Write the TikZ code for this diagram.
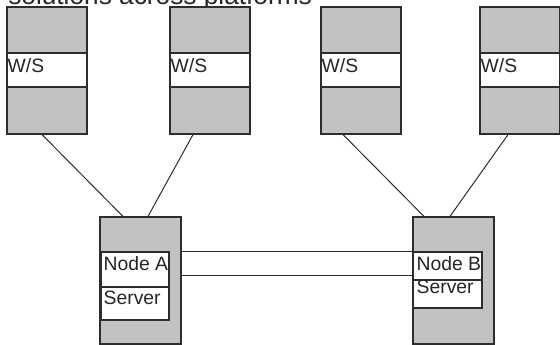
\documentclass[tikz,border=0pt]{standalone}
\usepackage{fontspec}
\setmainfont{Liberation Sans}
\usetikzlibrary{calc}
\definecolor{boxgray}{RGB}{196,193,197}
\definecolor{edgegray}{RGB}{45,45,45}

\begin{document}
\begin{tikzpicture}[x=0.75pt,y=-0.75pt,
  graybox/.style={draw=edgegray,fill=boxgray,line width=0.9pt,inner sep=0pt,minimum width=60pt,minimum height=95.25pt},
  whitebox/.style={draw=edgegray,fill=white,line width=0.9pt,inner sep=0pt},
  boxtext/.style={inner sep=0pt,anchor=base west,font=\fontsize{14.5}{16}\selectfont,text=black!85},
  link/.style={draw=edgegray,line width=0.75pt}]
\useasboundingbox (0,0) rectangle (560,345);
\clip (0,0) rectangle (560,345);

% Title, cut off at the top
\node[inner sep=0pt,anchor=base west,font=\fontsize{19.7}{22}\selectfont,text=black!85] (title) at (8,5) {solutions across platforms};

% Workstations
\foreach \n/\x in {1/47,2/210,3/361,4/520}{
  \node[graybox] (ws\n) at (\x,70.5) {};
  \node[whitebox,minimum width=60pt,minimum height=25.5pt] (band\n) at (\x,70) {};
  \node[boxtext] (wslabel\n) at ($(band\n.west)+(1,3)$) {W/S};
}

% Server A
\node[graybox,minimum width=60.75pt] (srvA) at (140.5,280.5) {};
\node[whitebox,minimum width=51pt,minimum height=26.25pt] (nameA) at (135,269.5) {};
\node[whitebox,minimum width=51pt,minimum height=24.75pt] (servA) at (135,303.5) {};
\node[boxtext] (nameAtext) at ($(nameA.north west)+(3,19)$) {Node A};
\node[boxtext] (servAtext) at ($(servA.north west)+(3,18)$) {Server};

% Server B
\node[graybox,minimum width=60.75pt] (srvB) at (453.5,280.5) {};
\node[whitebox,minimum width=51.75pt,minimum height=21pt] (nameB) at (447.5,266) {};
\node[whitebox,minimum width=51.75pt,minimum height=21pt] (servB) at (447.5,294) {};
\node[boxtext] (nameBtext) at ($(nameB.north west)+(4,19)$) {Node B};
\node[boxtext] (servBtext) at ($(servB.north west)+(4,14)$) {Server};

% Link between the servers
\draw[link] (srvA.east |- nameA.north) -- (srvB.west |- nameA.north);
\draw[link] ($(srvA.east)+(0,-5.5)$) -- ($(srvB.west)+(0,-5.5)$);

% Workstations to servers
\draw[link] ($(ws1.south)+(-5,0)$) -- ($(srvA.north)+(-17.5,0)$);
\draw[link] ($(ws2.south)+(-17,0)$) -- ($(srvA.north)+(7.5,0)$);
\draw[link] ($(ws3.south)+(-18,0)$) -- ($(srvB.north)+(-29.5,0)$);
\draw[link] ($(ws4.south)+(-12,0)$) -- ($(srvB.north)+(-3.5,0)$);

\end{tikzpicture}
\end{document}
